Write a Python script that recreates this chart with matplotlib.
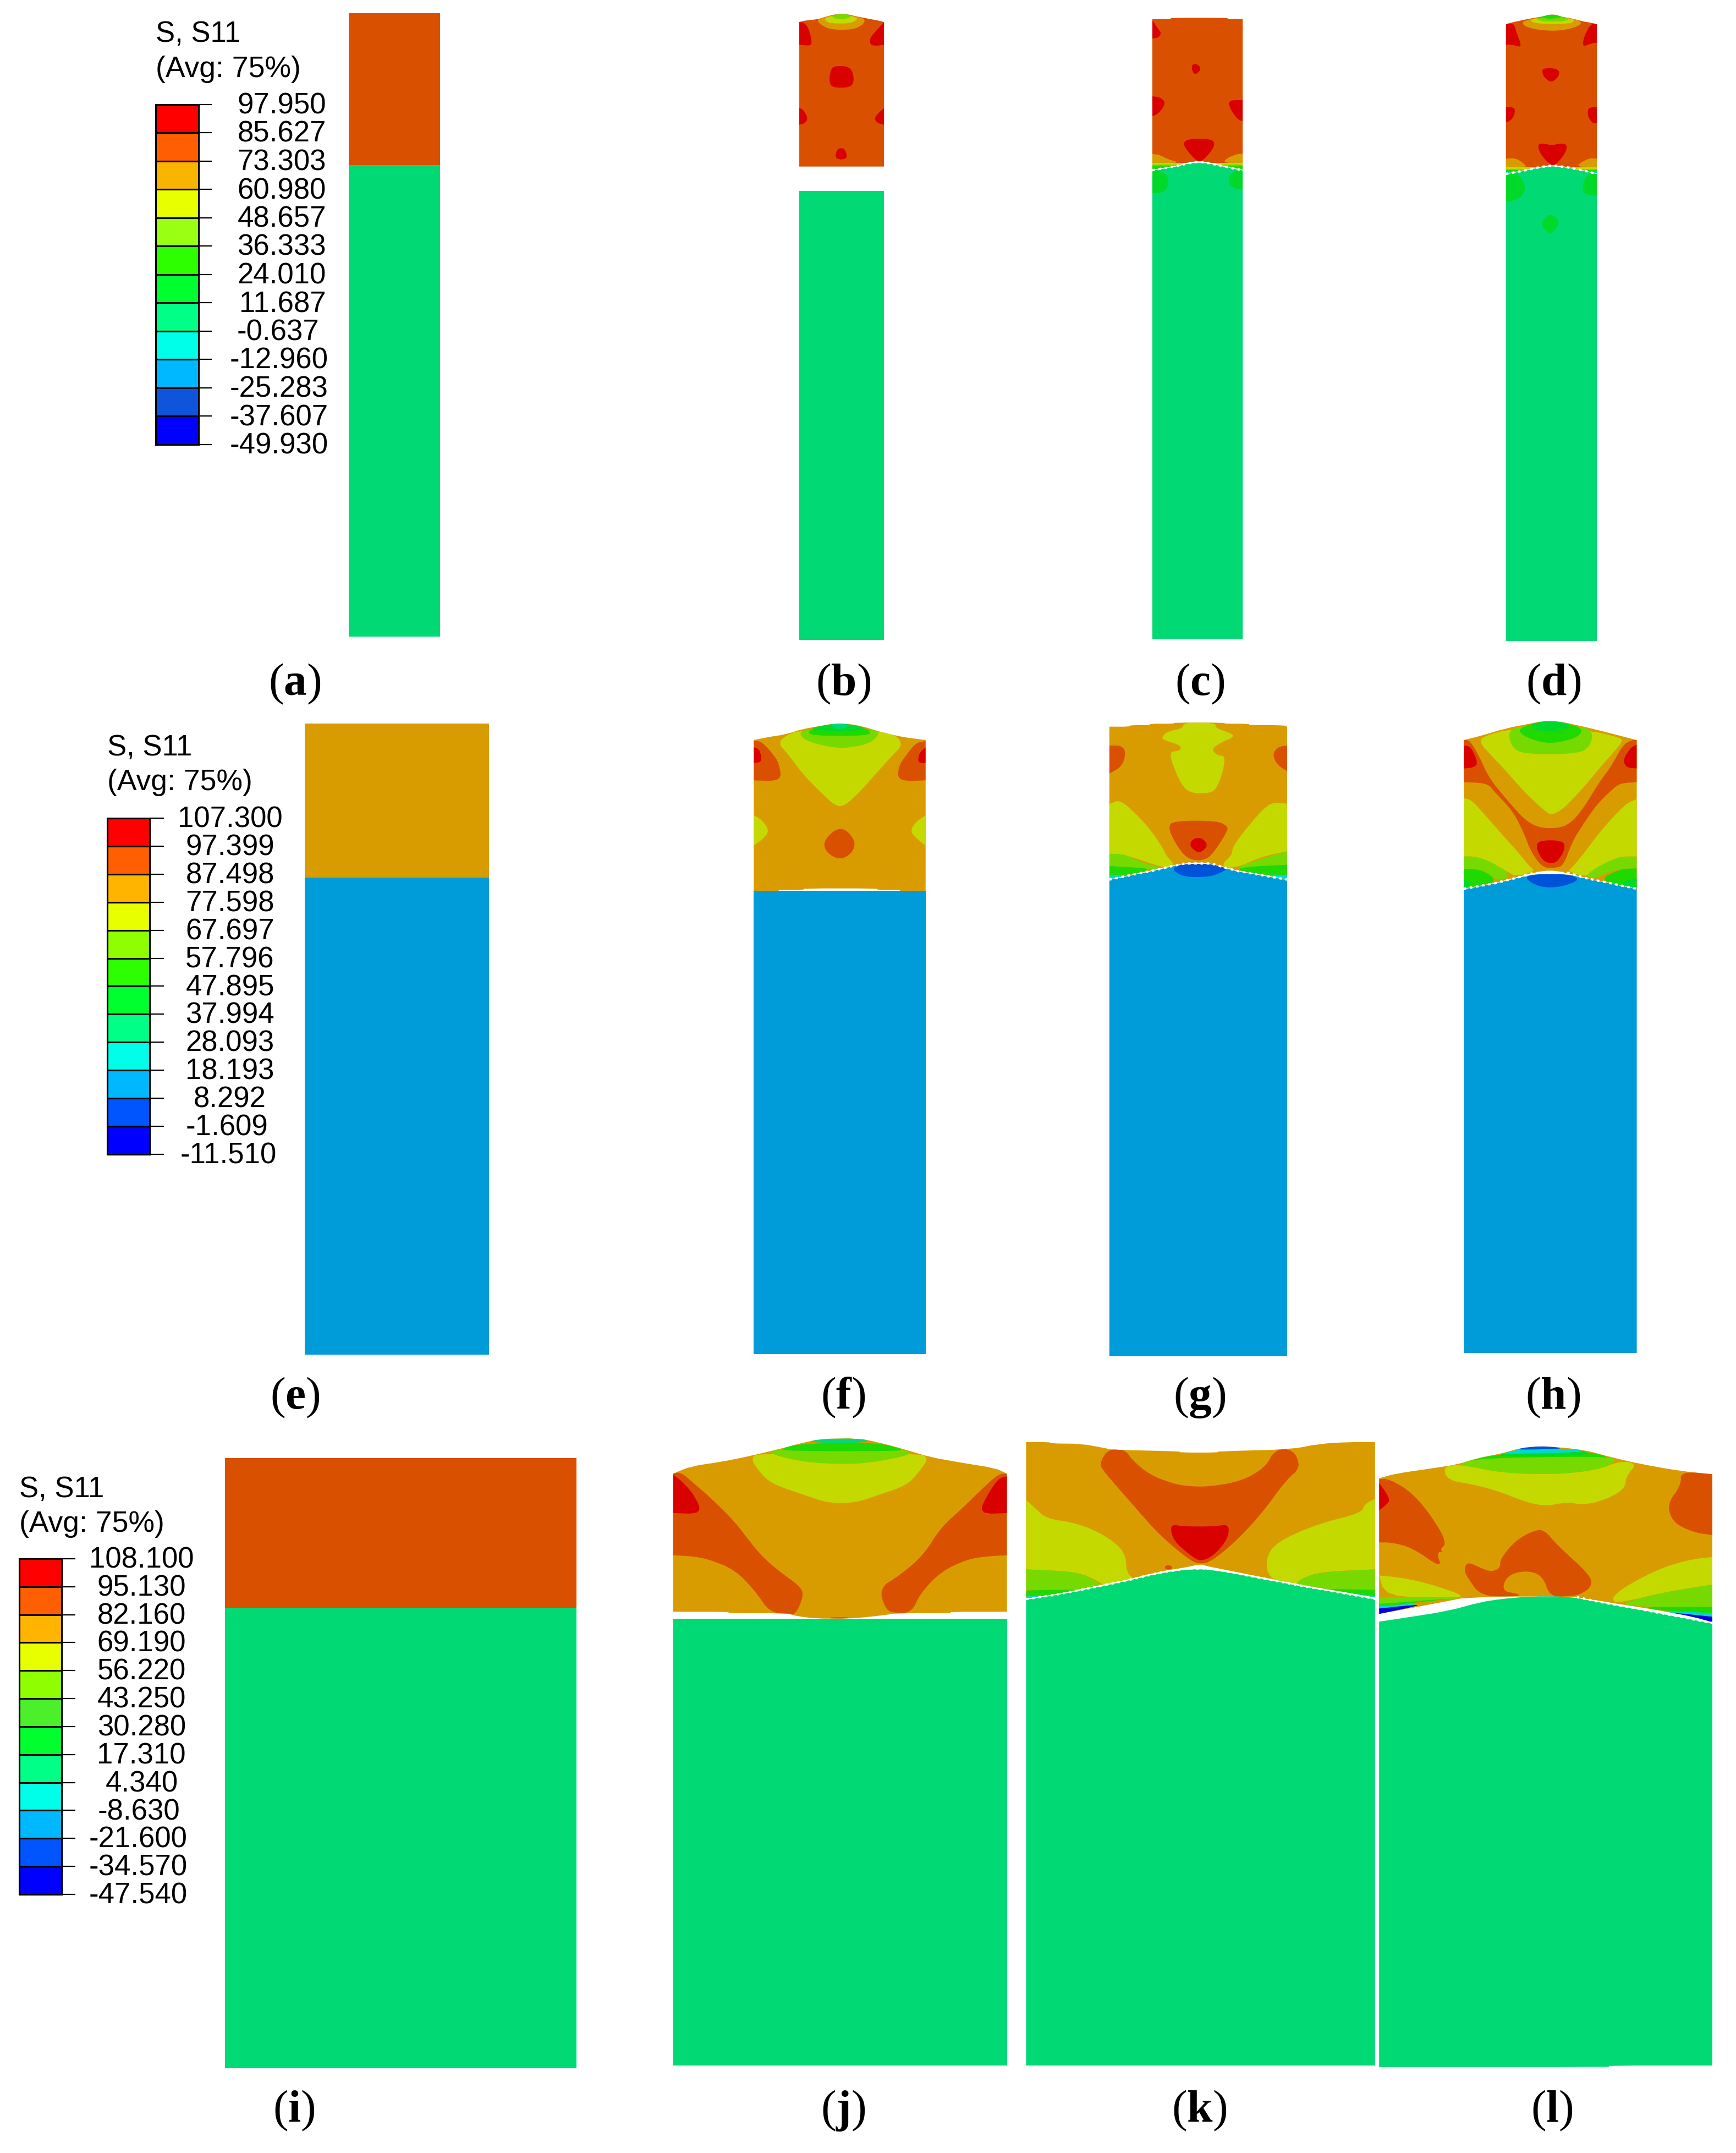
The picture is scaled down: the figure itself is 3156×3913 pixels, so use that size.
import matplotlib
matplotlib.use("Agg")
import matplotlib.pyplot as plt
from matplotlib.patches import Polygon, Rectangle

plt.rcParams['mathtext.fontset'] = 'custom'
plt.rcParams['mathtext.bf'] = 'Liberation Serif:bold'
plt.rcParams['mathtext.rm'] = 'Liberation Serif'

# ---- colours of the contour bands (dimmed as rendered in the plots)
RED = '#D90000'; ORG = '#D95000'; GLD = '#D99C00'; YEL = '#C4D900'; LIM = '#76D900'
GR2 = '#20D900'; GR3 = '#00D92A'; GRN = '#00D974'; CYN = '#00D9CC'; SKY = '#009BD9'
BLU = '#0052D9'; DBL = '#0000D9'

# ---- legends
LEG_COLORS_A = ['#FF0000', '#FF5F00', '#F9B400', '#E8FF00', '#99FF13', '#2EFF00', '#00FF2E',
                '#00FF87', '#00FFE8', '#00B8FF', '#0F55DB', '#0000FF']
LEG_COLORS_B = ['#FF0000', '#FF5F00', '#FFB400', '#E8FF00', '#8FFF00', '#2EFF00', '#00FF2E',
                '#00FF87', '#00FFE8', '#00B8FF', '#0055FF', '#0000FF']
LEG_COLORS_C = ['#FF0000', '#FF5F00', '#FFB400', '#E8FF00', '#8FFF00', '#4CF02A', '#00FF2E',
                '#00FF87', '#00FFE8', '#00B8FF', '#0055FF', '#0000FF']
LEG_LABELS_A = ['97.950', '85.627', '73.303', '60.980', '48.657', '36.333', '24.010', '11.687',
                '-0.637', '-12.960', '-25.283', '-37.607', '-49.930']
LEG_LABELS_B = ['107.300', '97.399', '87.498', '77.598', '67.697', '57.796', '47.895', '37.994',
                '28.093', '18.193', '8.292', '-1.609', '-11.510']
LEG_LABELS_C = ['108.100', '95.130', '82.160', '69.190', '56.220', '43.250', '30.280', '17.310',
                '4.340', '-8.630', '-21.600', '-34.570', '-47.540']
LEG_RIGHT_A = [593, 593, 593, 593, 593, 593, 593, 593, 580, 597, 597, 597, 597]
LEG_RIGHT_B = [514, 499, 499, 499, 499, 499, 499, 499, 499, 499, 484, 487, 503]
LEG_RIGHT_C = [353, 338, 338, 338, 338, 338, 338, 338, 324, 327, 341, 341, 341]

CAPTION_LETTERS = ['a', 'b', 'c', 'd', 'e', 'f', 'g', 'h', 'i', 'j', 'k', 'l']
CAPTION_X = [536, 1533, 2181, 2824, 536, 1533, 2181, 2823, 535, 1533, 2180, 2822]
CAPTION_Y = [1263, 1263, 1263, 1263, 2560, 2560, 2560, 2560, 3856, 3856, 3856, 3856]

# ---- uniform panels: x0, x1, top, split, bottom, upper colour, lower colour
BOX_A = (634, 800, 24, 300, 1157, ORG, GRN)
BOX_E = (554, 889, 1315, 1595.5, 2462, GLD, SKY)
BOX_I = (409, 1048, 2650, 2922, 3759, ORG, GRN)

# ---- row 1 contour regions
B_OUT = [(52,120),(62,112),(85,105),(100,90),(120,76),(135,76),(155,90),(180,105),(193,112),(203,120),(203,908),(52,908)]
B_REG = [
 (GLD, [(83,108),(97,92),(120,80),(135,80),(158,92),(170,108),(165,135),(148,162),(108,162),(90,135)]),
 (YEL, [(97,100),(110,85),(143,85),(157,100),(150,118),(140,128),(110,128),(100,118)]),
 (LIM, [(108,90),(120,76),(135,76),(147,90),(133,104),(120,104)]),
 (RED, [(52,120),(62,125),(70,165),(75,235),(70,250),(52,244)]),
 (RED, [(203,120),(190,165),(178,205),(178,245),(190,250),(203,244)]),
 (RED, [(115,360),(135,360),(146,380),(150,440),(143,478),(110,478),(105,440),(108,380)]),
 (RED, [(52,588),(60,600),(68,650),(60,675),(52,680)]),
 (RED, [(203,588),(190,625),(186,650),(192,672),(203,680)]),
 (RED, [(120,808),(133,808),(138,860),(127,872),(115,860)]),
]
B_LOW = [(52,1040),(203,1040),(203,3489),(52,3489)]

C_OUT = [(681,104),(714,104),(714,97),(815,97),(815,104),(842,104),(842,925),(825,915),(800,897),(780,885),(764,878),(745,885),(725,902),(700,915),(681,925)]
C_REG = [
 (GLD, [(681,840),(693,843),(710,870),(732,888),(681,890)]),
 (GLD, [(842,838),(832,840),(815,860),(806,888),(842,890)]),
 (YEL, [(681,888),(842,888),(842,900),(681,900)]),
 (LIM, [(681,897),(842,897),(842,906),(681,906)]),
 (GR2, [(681,904),(842,904),(842,930),(681,930)]),
 (RED, [(748,757),(780,757),(792,770),(790,810),(770,880),(760,880),(740,810),(736,775)]),
 (RED, [(681,110),(692,160),(697,180),(692,205),(681,210)]),
 (RED, [(840,155),(842,155),(842,160)]),
 (RED, [(751,350),(763,350),(768,380),(758,408),(752,390)]),
 (RED, [(681,525),(695,530),(705,560),(695,610),(684,632),(681,632)]),
 (RED, [(818,546),(842,546),(842,660),(835,655),(825,620),(818,580)]),
]
C_LOW = [(681,930),(700,920),(725,907),(745,892),(764,886),(782,892),(800,903),(825,920),(842,930),(842,3483),(681,3483)]
C_LOW_REG = [
 (GR3, [(681,925),(700,935),(710,970),(708,1030),(695,1053),(681,1053)]),
 (GR3, [(842,925),(825,935),(815,975),(822,1020),(835,1032),(842,1030)]),
]
C_DOT = [(681,928),(700,918),(725,905),(745,890),(764,882),(782,890),(800,901),(825,918),(842,928)]

D_OUT = [(1311,132),(1318,125),(1340,110),(1360,98),(1380,88),(1387,80),(1400,80),(1408,90),(1430,102),(1450,118),(1465,125),(1473,132),(1473,945),(1450,928),(1420,910),(1394,899),(1370,910),(1340,930),(1311,945)]
D_REG = [
 (GLD, [(1338,125),(1352,105),(1380,90),(1410,92),(1437,105),(1447,125),(1435,150),(1408,167),(1380,167),(1350,152)]),
 (YEL, [(1352,110),(1370,97),(1418,97),(1435,110),(1425,130),(1365,130)]),
 (LIM, [(1363,105),(1375,92),(1412,92),(1425,105),(1412,117),(1378,117)]),
 (GR2, [(1370,92),(1387,80),(1400,80),(1415,92),(1395,102),(1385,102)]),
 (RED, [(1311,132),(1325,125),(1330,180),(1340,260),(1325,245),(1311,243)]),
 (RED, [(1473,132),(1462,130),(1450,200),(1447,255),(1460,240),(1473,232)]),
 (RED, [(1376,372),(1402,372),(1408,405),(1393,453),(1380,425),(1376,400)]),
 (RED, [(1311,585),(1328,585),(1325,640),(1315,665),(1311,665)]),
 (RED, [(1458,585),(1473,585),(1473,672),(1465,672),(1456,630)]),
 (RED, [(1367,785),(1380,783),(1393,793),(1405,783),(1420,785),(1418,830),(1400,900),(1390,900),(1372,840)]),
 (GLD, [(1311,865),(1328,862),(1340,885),(1350,912),(1311,915)]),
 (GLD, [(1473,865),(1460,862),(1445,885),(1437,908),(1473,915)]),
 (YEL, [(1311,913),(1473,913),(1473,922),(1311,922)]),
 (LIM, [(1311,920),(1473,920),(1473,928),(1311,928)]),
 (GR2, [(1311,927),(1473,927),(1473,936),(1311,936)]),
 (CYN, [(1311,935),(1473,935),(1473,950),(1311,950)]),
]
D_LOW = [(1311,950),(1340,934),(1370,914),(1394,905),(1420,914),(1450,932),(1473,950),(1473,3495),(1311,3495)]
D_LOW_REG = [
 (GR3, [(1311,945),(1335,950),(1347,1020),(1340,1070),(1325,1095),(1311,1097)]),
 (GR3, [(1473,945),(1455,950),(1446,1020),(1450,1060),(1473,1067)]),
 (GR3, [(1385,1172),(1395,1172),(1408,1210),(1395,1270),(1385,1270),(1372,1220)]),
]
D_DOT = [(1311,948),(1340,932),(1370,912),(1394,902),(1420,912),(1450,930),(1473,948)]

# ---- row 2 contour regions
F_OUT = [(28,165),(50,150),(80,135),(110,105),(140,88),(160,76),(185,76),(210,90),(245,125),(280,150),(316,165),(316,988),(273,988),(273,982),(235,982),(235,974),(112,974),(112,982),(70,982),(70,988),(28,988)]
F_REG = [
 (YEL, [(68,180),(85,135),(105,112),(240,118),(265,135),(278,190),(260,250),(235,340),(205,450),(180,525),(165,525),(140,450),(110,350),(85,240)]),
 (LIM, [(103,125),(120,105),(225,105),(240,125),(225,180),(190,207),(160,207),(115,170)]),
 (GR2, [(118,115),(140,92),(205,92),(225,115),(220,142),(125,142)]),
 (GR3, [(122,100),(160,76),(185,76),(218,100),(205,115),(135,115)]),
 (GRN, [(155,80),(165,76),(182,76),(190,90),(175,105),(165,105)]),
 (ORG, [(28,170),(40,170),(60,240),(70,290),(75,390),(28,385)]),
 (ORG, [(316,170),(300,180),(285,240),(270,310),(270,390),(316,385)]),
 (RED, [(28,205),(38,215),(42,285),(28,290)]),
 (RED, [(316,205),(305,235),(303,290),(316,290)]),
 (YEL, [(28,575),(42,600),(54,660),(45,700),(28,740)]),
 (YEL, [(316,575),(300,610),(290,660),(300,700),(316,740)]),
 (ORG, [(165,650),(182,650),(198,715),(195,770),(180,810),(165,810),(148,770),(145,715)]),
]
F_LOW = [(28,988),(316,988),(316,3513),(28,3513)]

G_OUT = [(624,92),(658,92),(658,84),(692,84),(692,76),(732,76),(732,70),(817,70),(817,76),(858,76),(858,84),(915,84),(922,92),(922,925),(880,900),(840,878),(815,855),(795,838),(770,832),(750,838),(725,852),(700,872),(660,900),(624,925)]
G_REG = [
 (ORG, [(624,195),(645,195),(652,235),(645,310),(624,348)]),
 (ORG, [(922,195),(908,200),(897,240),(905,300),(922,335)]),
 (YEL, [(748,70),(802,70),(802,100),(830,130),(832,150),(810,180),(795,215),(805,250),(818,250),(815,330),(805,420),(795,455),(760,455),(745,410),(730,300),(725,228),(742,225),(745,195),(715,165),(712,150),(720,120),(748,100)]),
 (YEL, [(624,515),(640,490),(660,540),(690,640),(715,760),(718,790),(735,850),(715,860),(690,835),(660,800),(624,785)]),
 (YEL, [(922,512),(900,505),(885,530),(855,640),(830,750),(830,790),(810,852),(835,865),(880,800),(922,772)]),
 (LIM, [(624,785),(650,787),(680,835),(715,862),(695,870),(624,852)]),
 (LIM, [(922,772),(880,810),(832,866),(860,870),(922,845)]),
 (GR2, [(624,852),(695,865),(680,885),(650,905),(624,905)]),
 (GR2, [(922,845),(860,855),(835,868),(870,900),(922,900)]),
 (CYN, [(624,904),(660,898),(624,925)]),
 (CYN, [(922,900),(880,898),(922,925)]),
 (ORG, [(732,605),(805,605),(822,635),(822,660),(805,750),(790,810),(772,825),(752,805),(735,730),(722,640)]),
 (RED, [(768,698),(780,700),(790,740),(775,785),(760,750),(760,720)]),
]
G_LOW = [(624,928),(660,903),(700,877),(725,857),(750,840),(795,840),(815,860),(840,882),(880,904),(922,928),(922,3525),(624,3525)]
G_LOW_REG = [(BLU, [(735,855),(750,840),(800,840),(825,860),(810,890),(790,912),(750,912),(730,875)])]
G_DOT = [(624,926),(660,901),(700,875),(725,855),(750,838),(795,838),(815,858),(840,880),(880,902),(922,926)]

H_OUT = [(1218,165),(1240,148),(1290,100),(1330,75),(1350,62),(1375,62),(1400,78),(1440,108),(1490,150),(1508,165),(1508,975),(1470,950),(1420,915),(1385,885),(1362,875),(1340,885),(1310,910),(1270,945),(1218,975)]
H_REG = [
 (YEL, [(1218,482),(1230,490),(1250,560),(1285,690),(1310,780),(1330,860),(1338,880),(1305,910),(1290,880),(1260,825),(1238,800),(1218,800)]),
 (YEL, [(1508,487),(1490,510),(1450,650),(1420,780),(1400,860),(1392,880),(1420,910),(1440,880),(1475,800),(1508,800)]),
 (LIM, [(1218,800),(1238,800),(1265,830),(1300,905),(1275,935),(1250,870),(1218,868)]),
 (LIM, [(1508,800),(1478,802),(1445,850),(1420,908),(1440,920),(1470,870),(1508,865)]),
 (GR2, [(1218,868),(1248,870),(1275,935),(1245,960),(1218,975)]),
 (GR2, [(1508,865),(1480,868),(1445,925),(1485,965),(1508,975)]),
 (GR3, [(1508,917),(1490,930),(1480,955),(1508,975)]),
 (GR3, [(1218,925),(1232,945),(1222,970),(1218,970)]),
 (YEL, [(1245,180),(1250,145),(1300,100),(1420,108),(1480,150),(1485,175),(1450,300),(1420,420),(1385,540),(1368,570),(1360,570),(1320,450),(1285,320),(1260,235)]),
 (LIM, [(1292,110),(1320,85),(1410,85),(1435,115),(1430,200),(1410,240),(1320,243),(1298,205)]),
 (GR2, [(1310,100),(1345,65),(1380,65),(1418,100),(1410,150),(1375,180),(1350,180),(1315,140)]),
 (GR3, [(1330,80),(1350,62),(1375,62),(1398,80),(1390,112),(1340,118)]),
 (ORG, [(1218,165),(1228,165),(1245,260),(1260,370),(1290,490),(1320,600),(1345,645),(1380,645),(1400,610),(1420,530),(1445,395),(1465,310),(1485,190),(1500,165),(1508,165),(1508,395),(1480,400),(1465,440),(1440,520),(1415,640),(1400,720),(1385,850),(1372,862),(1350,862),(1330,770),(1320,680),(1300,550),(1270,450),(1258,400),(1218,395)]),
 (RED, [(1218,195),(1230,200),(1242,290),(1235,315),(1218,320)]),
 (RED, [(1508,190),(1498,205),(1485,270),(1490,315),(1508,320)]),
 (RED, [(1342,712),(1385,712),(1388,760),(1375,830),(1362,838),(1350,820),(1340,760)]),
]
H_LOW = [(1218,978),(1270,948),(1310,915),(1340,895),(1390,895),(1420,918),(1470,952),(1508,978),(1508,3507),(1218,3507)]
H_LOW_REG = [(BLU, [(1318,915),(1340,895),(1390,895),(1415,925),(1380,968),(1345,968)])]
H_DOT = [(1218,976),(1270,946),(1310,913),(1335,890),(1395,890),(1420,916),(1470,950),(1508,976)]

# ---- row 3 contour regions
J_OUT = [(19,235),(45,195),(90,170),(130,140),(175,100),(205,70),(235,45),(290,42),(320,65),(355,100),(395,145),(440,175),(490,205),(507,235),(507,988),(425,988),(425,996),(345,996),(330,1005),(300,1018),(276,1025),(228,1025),(200,1012),(185,996),(100,996),(100,988),(19,988)]
J_REG = [
 (YEL, [(130,140),(155,125),(375,125),(393,145),(380,220),(360,300),(320,350),(285,395),(245,395),(210,350),(170,300),(150,250)]),
 (LIM, [(155,120),(180,95),(345,95),(372,122),(340,155),(290,183),(240,180),(200,165)]),
 (GR2, [(175,100),(205,70),(320,65),(358,105),(340,112),(190,112)]),
 (GRN, [(215,62),(235,45),(290,42),(310,62),(260,70)]),
 (ORG, [(19,235),(30,225),(50,290),(75,370),(110,500),(130,600),(150,690),(175,770),(205,850),(210,900),(198,1005),(185,996),(160,990),(140,880),(110,760),(70,700),(45,685),(19,680)]),
 (ORG, [(507,235),(495,235),(470,320),(440,430),(410,530),(385,680),(350,790),(320,860),(330,980),(345,996),(368,990),(380,890),(410,770),(450,700),(480,685),(507,680)]),
 (RED, [(19,240),(30,270),(50,350),(62,455),(19,450)]),
 (RED, [(507,250),(495,260),(480,340),(465,455),(507,450)]),
 (ORG, [(248,1018),(276,1018),(276,1025),(248,1025)]),
]
J_LOW = [(19,1025),(507,1025),(507,3462),(19,3462)]

K_OUT = [(535,63),(570,63),(570,70),(615,72),(650,95),(660,105),(760,113),(760,120),(815,120),(815,113),(920,103),(965,72),(1005,63),(1045,63),(1045,910),(1000,880),(950,850),(880,800),(830,762),(800,740),(790,728),(770,745),(730,770),(680,815),(620,860),(575,895),(535,915)]
K_REG = [
 (ORG, [(655,100),(680,105),(690,160),(715,240),(750,290),(775,305),(805,305),(850,275),(885,200),(898,105),(925,100),(937,200),(915,270),(880,450),(840,610),(805,715),(790,728),(775,710),(730,570),(690,400),(650,230),(642,180)]),
 (RED, [(745,510),(765,523),(810,523),(832,510),(830,590),(810,680),(790,715),(775,680),(750,600)]),
 (YEL, [(535,378),(550,430),(565,480),(610,505),(650,570),(680,660),(682,780),(695,810),(650,850),(640,820),(610,770),(535,757)]),
 (LIM, [(535,757),(610,770),(640,825),(645,855),(615,868),(535,870)]),
 (GR2, [(535,872),(625,865),(595,888),(545,908),(535,905)]),
 (CYN, [(535,905),(570,895),(535,918)]),
 (YEL, [(1045,372),(1030,400),(1025,450),(960,510),(900,610),(885,700),(890,810),(930,850),(935,810),(965,770),(1045,757)]),
 (LIM, [(1045,757),(965,772),(935,810),(930,840),(955,865),(1045,868)]),
 (GR2, [(1045,868),(950,862),(1000,885),(1045,905)]),
 (CYN, [(1045,900),(1000,885),(1045,915)]),
 (ORG, [(738,735),(748,735),(748,757),(738,757)]),
]
K_LOW = [(535,922),(575,900),(620,868),(680,822),(730,778),(770,757),(805,757),(880,808),(950,858),(1000,890),(1045,920),(1045,3462),(535,3462)]
K_DOT = [(535,919),(575,897),(620,865),(680,819),(730,775),(770,752),(805,752),(880,805),(950,855),(1000,887),(1045,917)]

L_OUT = [(1051,260),(1075,235),(1130,205),(1165,185),(1195,150),(1230,125),(1258,95),(1285,85),(1310,90),(1350,105),(1390,145),(1430,180),(1490,220),(1538,238),(1538,1045),(1510,1015),(1460,980),(1400,945),(1350,915),(1330,905),(1185,905),(1130,945),(1051,1000)]
L_REG = [
 (GR2, [(1180,165),(1230,125),(1350,110),(1395,150),(1340,170),(1200,180)]),
 (GR3, [(1225,130),(1258,105),(1330,100),(1362,120),(1345,135),(1235,142)]),
 (CYN, [(1230,125),(1258,100),(1320,98),(1350,108),(1345,118),(1240,128)]),
 (BLU, [(1258,95),(1285,85),(1310,90),(1320,100),(1250,105)]),
 (LIM, [(1165,185),(1195,150),(1385,140),(1400,165),(1370,215),(1310,240),(1230,232),(1185,212)]),
 (YEL, [(1145,195),(1170,185),(1230,232),(1310,240),(1370,215),(1403,165),(1428,180),(1412,250),(1410,320),(1380,380),(1350,405),(1325,390),(1295,412),(1265,390),(1225,330),(1190,295),(1150,270)]),
 (ORG, [(1051,265),(1065,262),(1100,340),(1130,480),(1150,610),(1140,650),(1145,660),(1135,665),(1143,752),(1100,640),(1070,610),(1051,610)]),
 (RED, [(1051,285),(1068,375),(1060,410),(1051,435)]),
 (ORG, [(1492,222),(1538,238),(1538,570),(1510,555),(1480,500),(1472,400),(1492,300)]),
 (ORG, [(1278,543),(1293,543),(1310,620),(1360,790),(1362,850),(1345,895),(1325,905),(1300,903),(1290,790),(1265,762),(1238,790),(1230,875),(1255,890),(1255,905),(1200,905),(1180,800),(1175,760),(1180,715),(1200,750),(1215,770),(1228,750),(1228,700),(1250,600)]),
 (YEL, [(1051,790),(1080,800),(1120,830),(1180,905),(1150,910),(1060,905)]),
 (LIM, [(1051,908),(1160,908),(1170,915),(1100,935),(1051,950)]),
 (GR2, [(1051,945),(1170,912),(1110,935),(1051,962)]),
 (CYN, [(1051,958),(1140,930),(1051,975)]),
 (DBL, [(1051,970),(1125,942),(1051,1000)]),
 (YEL, [(1538,690),(1510,700),(1470,740),(1430,810),(1395,890),(1392,940),(1420,925),(1470,880),(1538,840)]),
 (LIM, [(1538,840),(1470,880),(1400,945),(1430,960),(1538,965)]),
 (GR2, [(1430,960),(1538,962),(1538,995),(1470,985)]),
 (CYN, [(1450,978),(1538,995),(1538,1015),(1510,1010)]),
 (DBL, [(1460,985),(1538,1015),(1538,1045),(1500,1015)]),
]
L_LOW = [(1051,1042),(1090,1020),(1150,985),(1200,935),(1230,918),(1270,905),(1330,905),(1370,935),(1430,975),(1500,1025),(1538,1052),(1538,3462),(1387,3462),(1387,3471),(1051,3471)]
L_LOW_REG = [(CYN, [(1280,900),(1318,900),(1310,912),(1285,912)])]
L_DOT = [(1340,908),(1370,932),(1430,972),(1500,1022),(1538,1049)]


def row1(p):
    return [(1400 + x / 0.98, y / 3) for x, y in p]

def row2(p):
    return [(1340 + x / 0.922, 1290 + y / 3) for x, y in p]

def row3(p):
    return [(1200 + x / 0.804, 2600 + y / 3) for x, y in p]


def rounded(pts, xlo, xhi, passes=2):
    """Round polygon corners, keeping the vertices that lie on the panel's sides."""
    for _ in range(passes):
        out = []
        n = len(pts)
        for i in range(n):
            x, y = pts[i]
            if abs(x - xlo) < 0.5 or abs(x - xhi) < 0.5:
                out.append((x, y))
                continue
            px, py = pts[i - 1]
            nx, ny = pts[(i + 1) % n]
            out.append((0.75 * x + 0.25 * px, 0.75 * y + 0.25 * py))
            out.append((0.75 * x + 0.25 * nx, 0.75 * y + 0.25 * ny))
        pts = out
    return pts


fig = plt.figure(figsize=(31.56, 39.13), dpi=100, facecolor='white')
ax = fig.add_axes([0, 0, 1, 1])
ax.set_xlim(0, 3156)
ax.set_ylim(3913, 0)
ax.axis('off')


def add_poly(pts, color, clip=None, z=2):
    patch = Polygon(pts, closed=True, facecolor=color, edgecolor='none', linewidth=0, zorder=z)
    ax.add_patch(patch)
    if clip is not None:
        patch.set_clip_path(clip)
    return patch


def draw_box(box):
    x0, x1, top, split, bottom, c_up, c_low = box
    ax.add_patch(Rectangle((x0, top), x1 - x0, split - top, facecolor=c_up, edgecolor='none'))
    ax.add_patch(Rectangle((x0, split), x1 - x0, bottom - split, facecolor=c_low, edgecolor='none'))


def draw_part(tr, outline, regions, base, lower, low_regions=(), low_color=GRN, dots=None):
    xlo = min(p[0] for p in outline)
    xhi = max(p[0] for p in outline)
    up = add_poly(tr(rounded(outline, xlo, xhi, 1)), base)
    for col, pts in regions:
        add_poly(tr(rounded(pts, xlo, xhi)), col, clip=up)
    low = add_poly(tr(rounded(lower, xlo, xhi, 1)), low_color)
    for col, pts in low_regions:
        add_poly(tr(rounded(pts, xlo, xhi)), col, clip=low)
    if dots is not None:
        d = tr(dots)
        ax.plot([q[0] for q in d], [q[1] for q in d], color='white', lw=3.0,
                linestyle=(0, (1.1, 1.6)), zorder=4, solid_capstyle='butt')


def draw_legend(colors, labels, rights, bar, ticks_to, y0, y1, title_x, title_y):
    n = len(colors)
    step = (y1 - y0) / n
    for i, col in enumerate(colors):
        ax.add_patch(Rectangle((bar[0], y0 + i * step), bar[1] - bar[0], step, facecolor=col,
                               edgecolor='black', linewidth=2.2, zorder=3))
    for i, lab in enumerate(labels):
        y = y0 + i * step
        ax.plot([bar[1], ticks_to], [y, y], color='black', lw=1.6, zorder=3, solid_capstyle='butt')
        ax.text(rights[i], y + 16.5, lab, ha='right', va='baseline',
                family='Liberation Sans', fontsize=38, color='black')
    ax.text(title_x, title_y[0], 'S, S11', ha='left', va='baseline',
            family='Liberation Sans', fontsize=38, color='black')
    ax.text(title_x, title_y[1], '(Avg: 75%)', ha='left', va='baseline',
            family='Liberation Sans', fontsize=38.5, color='black')


draw_box(BOX_A)
draw_box(BOX_E)
draw_box(BOX_I)

draw_part(row1, B_OUT, B_REG, ORG, B_LOW)
draw_part(row1, C_OUT, C_REG, ORG, C_LOW, C_LOW_REG, dots=C_DOT)
draw_part(row1, D_OUT, D_REG, ORG, D_LOW, D_LOW_REG, dots=D_DOT)

draw_part(row2, F_OUT, F_REG, GLD, F_LOW, low_color=SKY)
draw_part(row2, G_OUT, G_REG, GLD, G_LOW, G_LOW_REG, low_color=SKY, dots=G_DOT)
draw_part(row2, H_OUT, H_REG, GLD, H_LOW, H_LOW_REG, low_color=SKY, dots=H_DOT)

draw_part(row3, J_OUT, J_REG, GLD, J_LOW)
draw_part(row3, K_OUT, K_REG, GLD, K_LOW, dots=K_DOT)
draw_part(row3, L_OUT, L_REG, GLD, L_LOW, L_LOW_REG, dots=L_DOT)

draw_legend(LEG_COLORS_A, LEG_LABELS_A, LEG_RIGHT_A, (283, 361), 385, 190, 808, 283, (76, 140))
draw_legend(LEG_COLORS_B, LEG_LABELS_B, LEG_RIGHT_B, (195, 272), 298, 1487, 2098, 195, (1373, 1436))
draw_legend(LEG_COLORS_C, LEG_LABELS_C, LEG_RIGHT_C, (35, 112), 137, 2833, 3443, 35, (2721, 2784))

for letter, x, y in zip(CAPTION_LETTERS, CAPTION_X, CAPTION_Y):
    ax.text(x, y, '(' + r'$\mathbf{' + letter + '}$' + ')', ha='center', va='baseline',
            family='Liberation Serif', fontsize=60, color='black')

fig.savefig('out.png', dpi=100, facecolor='white')
